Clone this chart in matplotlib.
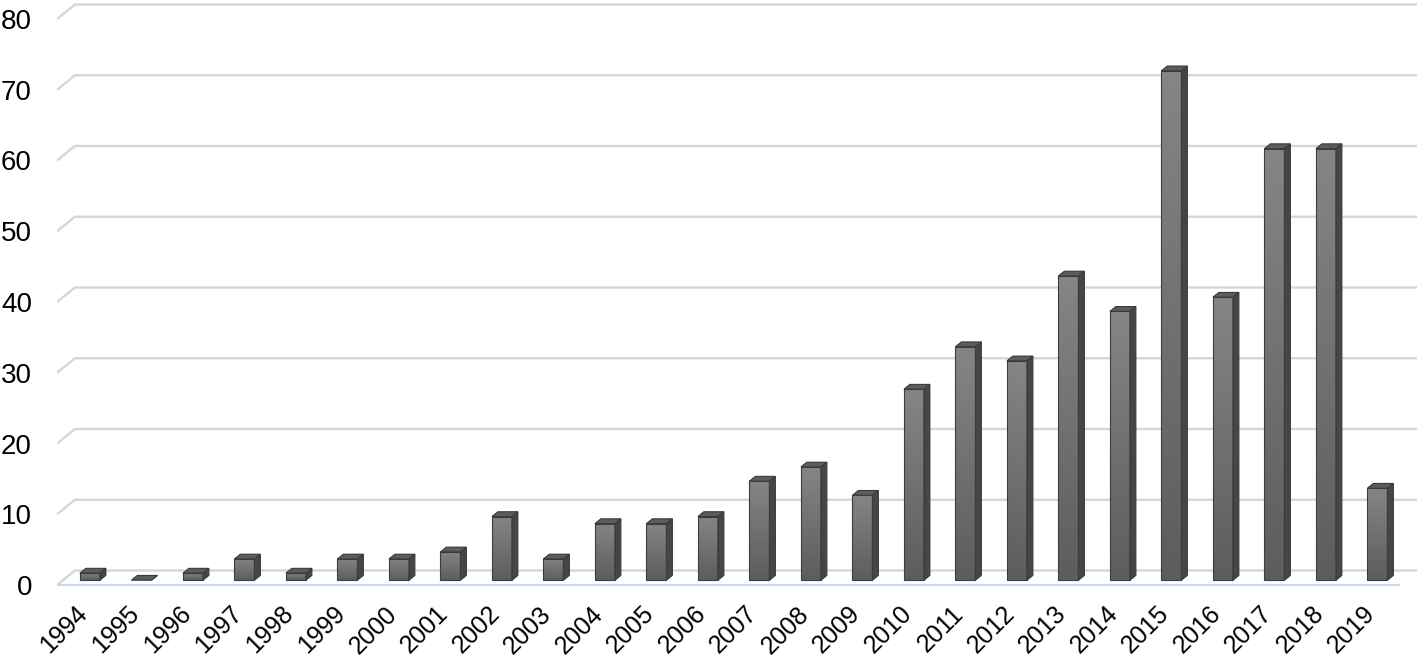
import numpy as np
import matplotlib.pyplot as plt
from matplotlib.patches import Polygon, Rectangle
from matplotlib.colors import LinearSegmentedColormap

years = [str(y) for y in range(1994, 2020)]
counts = [1, 0, 1, 3, 1, 3, 3, 4, 9, 3, 8, 8, 9, 14, 16, 12,
          27, 33, 31, 43, 38, 72, 40, 61, 61, 13]
y_ticks = [0, 10, 20, 30, 40, 50, 60, 70, 80]

plt.rcParams['font.family'] = ['Liberation Sans', 'DejaVu Sans']

W, H = 1421, 658
fig = plt.figure(figsize=(W / 100, H / 100), dpi=100)

# pixel scales of the pseudo 3d chart
px_cat = 51.5      # pixels per category
px_val = 7.075     # pixels per unit
DX = 18 / px_cat   # depth offset (x) of the back wall
DY = 14.5 / px_val # depth offset (y) of the back wall
z0, z1 = 0.33, 0.66  # bar front / back depth
bw = 20 / px_cat   # bar width

left_px, right_px, base_px = 57, 1417, 585
bottom_px = base_px + 7
ax = fig.add_axes([left_px / W, (H - bottom_px) / H, (right_px - left_px) / W, bottom_px / H])
x_lo = -0.524
x_hi = x_lo + (right_px - left_px) / px_cat
y_lo = -(bottom_px - base_px) / px_val
y_hi = y_lo + bottom_px / px_val

# gridlines on the back wall with the slanted side-wall piece
for v in y_ticks:
    ax.plot([x_lo, x_lo + DX, x_hi], [v, v + DY, v + DY], color='#d6d6d6', lw=1.7,
            solid_capstyle='butt', zorder=1)

# floor front edge
ax.plot([x_lo, x_hi - DX], [0, 0], color='#c5d8ef', lw=1.5, zorder=1)

cmap = LinearSegmentedColormap.from_list('bar', ['#5d5d5d', '#858585'])
grad = np.linspace(0, 1, 64).reshape(-1, 1)

for i, v in enumerate(counts):
    xl = i + z0 * DX - bw / 2
    xr = xl + bw
    yb = z0 * DY
    yt = v + yb
    ddx = (z1 - z0) * DX
    ddy = (z1 - z0) * DY
    if v > 0:
        ax.imshow(grad, cmap=cmap, extent=[xl, xr, yb, yt], origin='lower',
                  aspect='auto', zorder=3, interpolation='bilinear')
        ax.add_patch(Rectangle((xl, yb), bw, v, fill=False, ec='#3d3d3d', lw=0.8, zorder=4))
    side = Polygon([[xr, yb], [xr + ddx, yb + ddy], [xr + ddx, yt + ddy], [xr, yt]],
                   closed=True, fc='#464646', ec='#3a3a3a', lw=0.8, zorder=3)
    top = Polygon([[xl, yt], [xl + ddx, yt + ddy], [xr + ddx, yt + ddy], [xr, yt]],
                  closed=True, fc='#5c5c5c', ec='#3a3a3a', lw=0.8, zorder=4)
    ax.add_patch(side)
    ax.add_patch(top)

ax.set_xlim(x_lo, x_hi)
ax.set_ylim(y_lo, y_hi)
for s in ax.spines.values():
    s.set_visible(False)

ax.set_yticks(y_ticks)
ax.set_yticklabels([str(v) for v in y_ticks], fontsize=20, family=['Liberation Sans', 'DejaVu Sans'])
ax.tick_params(axis='y', length=0, pad=18)

# labels sit a little left of the bar centres
xpos = [i + z0 * DX - 6 / px_cat for i in range(len(years))]
ax.set_xticks(xpos)
ax.set_xticklabels(years, rotation=45, ha='right', va='center', rotation_mode='anchor',
                   fontsize=18, family=['Liberation Sans', 'DejaVu Sans'])
ax.tick_params(axis='x', length=0, pad=13)

fig.savefig('out.png', dpi=100)
